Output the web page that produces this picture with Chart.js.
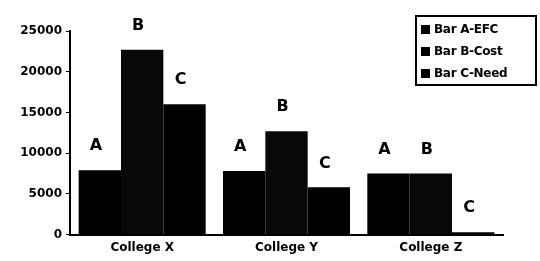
<!DOCTYPE html>
<html>
<head>
<meta charset="utf-8">
<script src="https://cdn.jsdelivr.net/npm/chart.js@4"></script>
<style>
    html, body { margin: 0; padding: 0; background: #fff; }
    #wrap { position: relative; width: 540px; height: 261px; }
    #legend {
        position: absolute; left: 415px; top: 15px; width: 118px; height: 67px;
        border: 2px solid #000; box-sizing: content-box;
        font: bold 12px "DejaVu Sans", sans-serif; color: #000;
    }
    #legend div { height: 22px; line-height: 24px; padding-left: 4px; white-space: nowrap; letter-spacing: -0.3px; }
    #legend span { display: inline-block; width: 9px; height: 9px; background: #000; margin-right: 4px; vertical-align: -1px; }
</style>
</head>
<body>
<div id="wrap">
    <canvas id="chart1" width="540" height="261"></canvas>
    <div id="legend"></div>
</div>
<script>
    var colleges = ['College X', 'College Y', 'College Z'];
    var seriesNames = ['Bar A-EFC', 'Bar B-Cost', 'Bar C-Need'];
    var barLetters = ['A', 'B', 'C'];
    var efc = [7900, 7800, 7500];
    var cost = [22700, 12700, 7500];
    var need = [16000, 5800, 300];
    var yTicks = [0, 5000, 10000, 15000, 20000, 25000];

    var font = { family: '"DejaVu Sans", sans-serif', weight: 'bold', size: 12 };

    // letters A/B/C above every bar
    var letterPlugin = {
        id: 'letters',
        afterDatasetsDraw: function (chart) {
            var ctx = chart.ctx;
            ctx.save();
            ctx.fillStyle = '#000';
            ctx.font = 'bold 16px "DejaVu Sans", sans-serif';
            ctx.textAlign = 'center';
            ctx.textBaseline = 'bottom';
            chart.data.datasets.forEach(function (ds, i) {
                chart.getDatasetMeta(i).data.forEach(function (bar) {
                    ctx.fillText(barLetters[i], bar.x - 4, bar.y - 16);
                });
            });
            ctx.restore();
        }
    };

    var legendBox = document.getElementById('legend');
    seriesNames.forEach(function (name) {
        var row = document.createElement('div');
        row.innerHTML = '<span></span>' + name;
        legendBox.appendChild(row);
    });

    new Chart(document.getElementById('chart1'), {
        type: 'bar',
        data: {
            labels: colleges,
            datasets: [
                { label: seriesNames[0], data: efc, backgroundColor: '#000' },
                { label: seriesNames[1], data: cost, backgroundColor: '#080808' },
                { label: seriesNames[2], data: need, backgroundColor: '#000' }
            ]
        },
        options: {
            responsive: false,
            animation: false,
            layout: { padding: { top: 31, right: 37, left: 0, bottom: 0 } },
            plugins: { legend: { display: false }, tooltip: { enabled: false } },
            datasets: { bar: { barPercentage: 1, categoryPercentage: 0.88 } },
            scales: {
                x: {
                    grid: { display: false, drawTicks: false },
                    border: { color: '#000', width: 2 },
                    ticks: { color: '#000', font: font, padding: 6 }
                },
                y: {
                    min: 0,
                    max: 25000,
                    afterBuildTicks: function (scale) {
                        scale.ticks = yTicks.map(function (v) { return { value: v }; });
                    },
                    afterFit: function (scale) { scale.width = 70; },
                    grid: { drawOnChartArea: false, color: '#000', tickLength: 4, lineWidth: 1 },
                    border: { color: '#000', width: 2 },
                    ticks: {
                        color: '#000', font: font, padding: 4,
                        callback: function (v) { return String(v); }
                    }
                }
            }
        },
        plugins: [letterPlugin]
    });
</script>
</body>
</html>
